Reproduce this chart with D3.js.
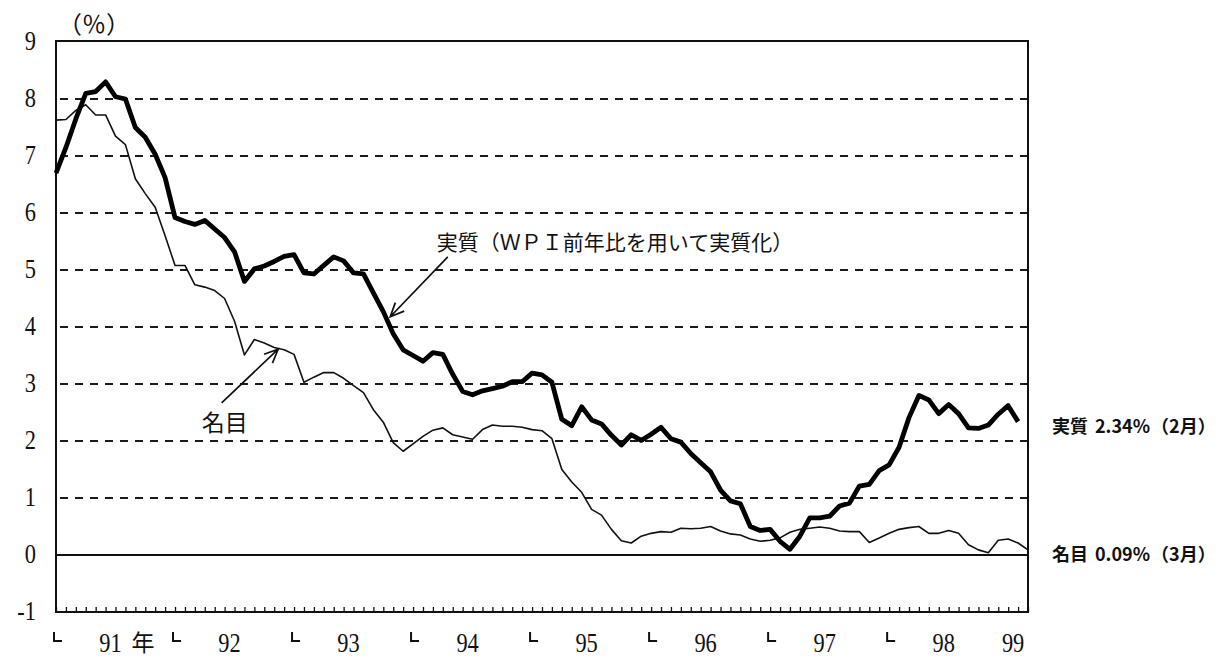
<!DOCTYPE html>
<html lang="ja">
<head>
<meta charset="utf-8">
<script src="https://cdn.jsdelivr.net/npm/d3@7"></script>
<style>
  html, body { margin: 0; padding: 0; background: #fff; }
  svg { display: block; }
</style>
</head>
<body>
<div id="chart"></div>
<script>
// monthly, Jan 1991 .. Feb 1999 (実質) / Mar 1999 (名目)
const realRate = [
  6.70, 7.15, 7.65, 8.10, 8.13, 8.30, 8.04, 8.00, 7.50, 7.33,
  7.03, 6.62, 5.92, 5.85, 5.80, 5.87, 5.72, 5.57, 5.32, 4.80,
  5.02, 5.07, 5.15, 5.24, 5.27, 4.95, 4.93, 5.08, 5.23, 5.16,
  4.95, 4.93, 4.60, 4.27, 3.88, 3.60, 3.50, 3.40, 3.55, 3.52,
  3.17, 2.87, 2.81, 2.88, 2.92, 2.96, 3.04, 3.04, 3.19, 3.16,
  3.03, 2.38, 2.27, 2.60, 2.37, 2.30, 2.10, 1.93, 2.11, 2.01,
  2.12, 2.24, 2.04, 1.98, 1.78, 1.62, 1.46, 1.14, 0.95, 0.90,
  0.50, 0.43, 0.45, 0.24, 0.10, 0.33, 0.65, 0.65, 0.68, 0.86,
  0.91, 1.21, 1.24, 1.48, 1.58, 1.89, 2.41, 2.80, 2.72, 2.48,
  2.64, 2.48, 2.23, 2.22, 2.28, 2.47, 2.62, 2.34
];
const nominalRate = [
  7.63, 7.64, 7.80, 7.90, 7.72, 7.72, 7.35, 7.20, 6.60, 6.34,
  6.10, 5.60, 5.08, 5.08, 4.74, 4.70, 4.64, 4.50, 4.10, 3.51,
  3.78, 3.72, 3.64, 3.60, 3.52, 3.03, 3.12, 3.20, 3.20, 3.10,
  2.97, 2.85, 2.55, 2.33, 1.97, 1.82, 1.95, 2.08, 2.19, 2.23,
  2.11, 2.07, 2.03, 2.20, 2.28, 2.26, 2.26, 2.24, 2.20, 2.18,
  2.04, 1.50, 1.28, 1.10, 0.80, 0.70, 0.45, 0.25, 0.21, 0.33,
  0.38, 0.41, 0.40, 0.47, 0.46, 0.47, 0.50, 0.42, 0.37, 0.35,
  0.28, 0.24, 0.26, 0.30, 0.40, 0.45, 0.47, 0.49, 0.47, 0.42,
  0.41, 0.41, 0.22, 0.30, 0.38, 0.45, 0.48, 0.50, 0.38, 0.38,
  0.43, 0.38, 0.18, 0.09, 0.04, 0.26, 0.28, 0.21, 0.09
];
const monthCount = 99;
const yearLabels = ["91", "92", "93", "94", "95", "96", "97", "98", "99"];
const yTicks = [-1, 0, 1, 2, 3, 4, 5, 6, 7, 8, 9];
const gridValues = [1, 2, 3, 4, 5, 6, 7, 8];

const width = 1225, height = 658;
const plotLeft = 56, plotRight = 1028, plotTop = 42, plotBottom = 612;
const serif = '"Liberation Serif", "Times New Roman", "DejaVu Serif", serif';
const jpFont = '"Noto Sans CJK JP", "Noto Sans CJK SC", sans-serif';

const x = d3.scaleLinear().domain([0, monthCount - 1]).range([plotLeft, plotRight]);
const y = d3.scaleLinear().domain([-1, 9]).range([plotBottom, plotTop]);

const svg = d3.select("#chart").append("svg")
  .attr("width", width)
  .attr("height", height)
  .attr("viewBox", [0, 0, width, height]);

svg.append("rect").attr("width", width).attr("height", height).attr("fill", "#fff");

// dashed grid
svg.append("g")
  .selectAll("line")
  .data(gridValues)
  .join("line")
  .attr("x1", plotLeft + 4)
  .attr("x2", plotRight)
  .attr("y1", d => y(d))
  .attr("y2", d => y(d))
  .attr("stroke", "#1a1a1a")
  .attr("stroke-width", 2)
  .attr("stroke-dasharray", "8,7");

// zero line
svg.append("line")
  .attr("x1", plotLeft).attr("x2", plotRight)
  .attr("y1", y(0)).attr("y2", y(0))
  .attr("stroke", "#111")
  .attr("stroke-width", 1.8);

// month ticks on the bottom edge
svg.append("g")
  .attr("transform", `translate(0,${plotBottom})`)
  .call(d3.axisTop(x).tickValues(d3.range(monthCount)).tickSize(5).tickFormat(""))
  .call(g => g.select(".domain").remove())
  .call(g => g.selectAll(".tick line").attr("stroke", "#111").attr("stroke-width", 1.3));

// frame
svg.append("rect")
  .attr("x", plotLeft).attr("y", plotTop - 1)
  .attr("width", plotRight - plotLeft).attr("height", plotBottom - plotTop + 1)
  .attr("fill", "none")
  .attr("stroke", "#111")
  .attr("stroke-width", 2);

// lines
const line = d3.line()
  .x((d, i) => x(i))
  .y(d => y(d));

svg.append("path")
  .datum(nominalRate)
  .attr("d", line)
  .attr("fill", "none")
  .attr("stroke", "#111")
  .attr("stroke-width", 1.6)
  .attr("stroke-linejoin", "round");

svg.append("path")
  .datum(realRate)
  .attr("d", line)
  .attr("fill", "none")
  .attr("stroke", "#000")
  .attr("stroke-width", 4.8)
  .attr("stroke-linejoin", "round");

// y labels
svg.append("g")
  .selectAll("text")
  .data(yTicks)
  .join("text")
  .attr("transform", d => `translate(36,${y(d) - 2}) scale(0.8,1)`)
  .attr("text-anchor", "end")
  .attr("dominant-baseline", "central")
  .attr("fill", "#111")
  .style("font-family", serif)
  .style("font-size", "28px")
  .text(d => d);

svg.append("text")
  .attr("x", 94)
  .attr("y", 22)
  .attr("text-anchor", "middle")
  .attr("dominant-baseline", "central")
  .attr("fill", "#111")
  .style("font-family", jpFont)
  .style("font-size", "24px")
  .text("（％）");

// year marks and labels
const yearGroup = svg.append("g");
yearLabels.forEach((label, k) => {
  const start = 12 * k;
  const end = Math.min(start + 12, monthCount - 1);
  if (start + 12 <= monthCount - 1) {
    const lx = x(start) - 2;
    yearGroup.append("path")
      .attr("d", `M${lx},${plotBottom + 20}V${plotBottom + 29}H${lx + 8}`)
      .attr("fill", "none")
      .attr("stroke", "#111")
      .attr("stroke-width", 2);
  }
  const cx = (x(start) + x(end)) / 2 - 5;
  yearGroup.append("text")
    .attr("transform", `translate(${cx},${plotBottom + 40}) scale(0.8,1)`)
    .attr("text-anchor", "middle")
    .attr("fill", "#111")
    .style("font-family", serif)
    .style("font-size", "28px")
    .text(label);
  if (k === 0) {
    yearGroup.append("text")
      .attr("x", cx + 21)
      .attr("y", plotBottom + 39)
      .attr("fill", "#111")
      .style("font-family", jpFont)
      .style("font-size", "23px")
      .text("年");
  }
});

// annotations
function arrow(x1, y1, x2, y2) {
  const ang = Math.atan2(y2 - y1, x2 - x1);
  const len = 15, spread = 0.42;
  const a1 = [x2 - len * Math.cos(ang - spread), y2 - len * Math.sin(ang - spread)];
  const a2 = [x2 - len * Math.cos(ang + spread), y2 - len * Math.sin(ang + spread)];
  svg.append("path")
    .attr("d", `M${x1},${y1}L${x2},${y2}M${a1}L${x2},${y2}L${a2}`)
    .attr("fill", "none")
    .attr("stroke", "#111")
    .attr("stroke-width", 1.7);
}

svg.append("text")
  .attr("x", x(38.4))
  .attr("y", y(5.35))
  .attr("fill", "#111")
  .style("font-family", jpFont)
  .style("font-size", "21px")
  .text("実質（ＷＰＩ前年比を用いて実質化）");
arrow(x(39.5), y(5.23), x(33.7), y(4.18));

svg.append("text")
  .attr("x", x(14.7))
  .attr("y", y(2.18))
  .attr("fill", "#111")
  .style("font-family", jpFont)
  .style("font-size", "23px")
  .text("名目");
arrow(x(16.7), y(2.67), x(22.4), y(3.61));

// end labels
const endLabels = [
  { name: "実質", value: "2.34%", month: "（2月）", v: realRate[realRate.length - 1] },
  { name: "名目", value: "0.09%", month: "（3月）", v: nominalRate[nominalRate.length - 1] }
];
endLabels.forEach(d => {
  const t = svg.append("text")
    .attr("x", plotRight + 24)
    .attr("y", y(d.v) + 3)
    .attr("dominant-baseline", "central")
    .attr("fill", "#111")
    .style("font-family", jpFont)
    .style("font-size", "18px")
    .style("font-weight", "bold");
  t.append("tspan").text(d.name);
  t.append("tspan").attr("dx", 7).text(d.value);
  t.append("tspan").attr("dx", 1).text(d.month);
});
</script>
</body>
</html>
